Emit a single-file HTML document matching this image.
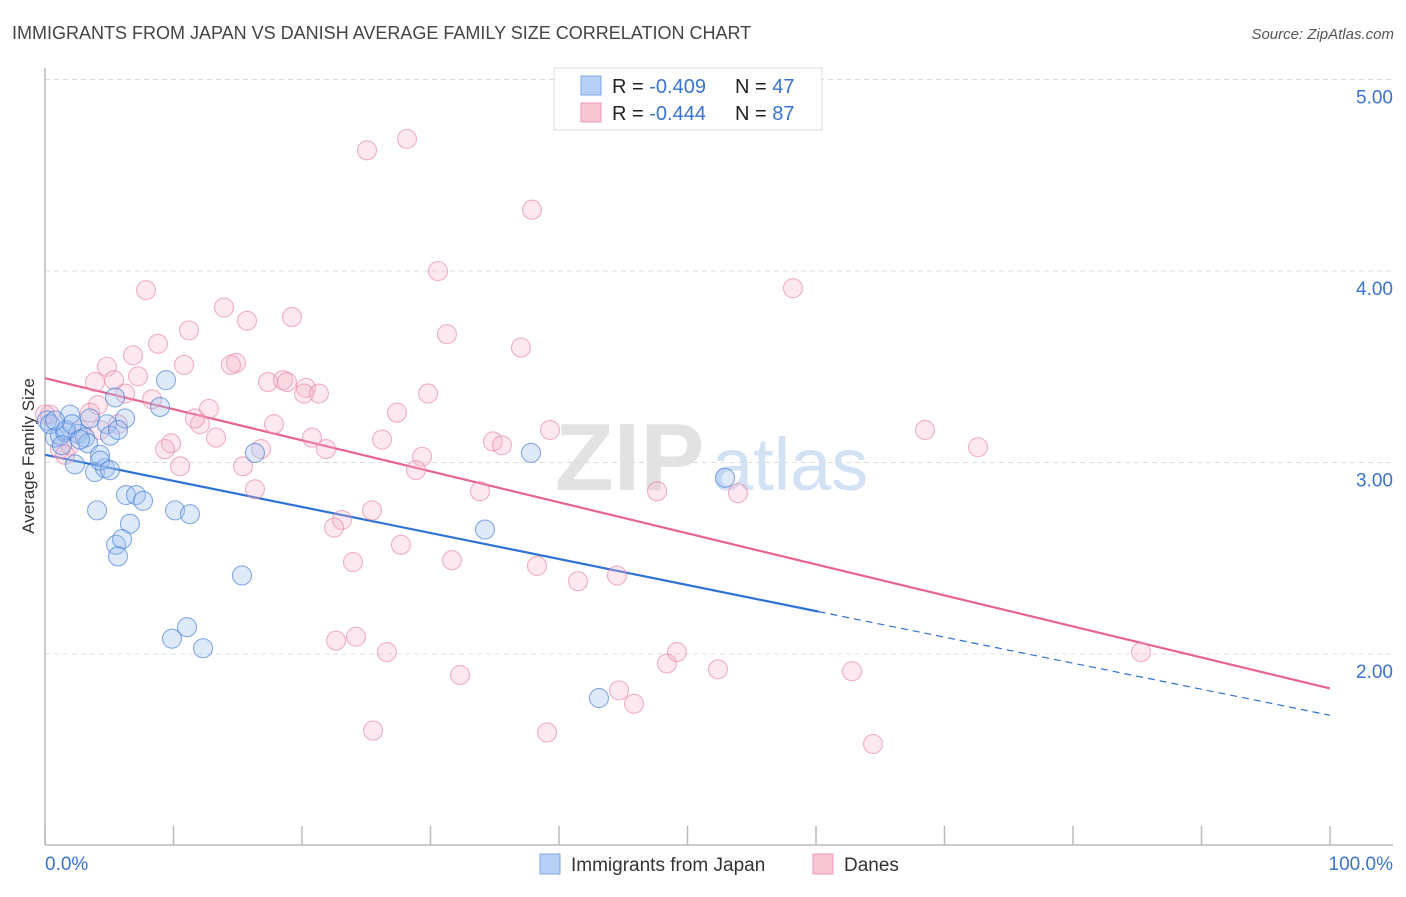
<!DOCTYPE html>
<html><head><meta charset="utf-8">
<style>
body{margin:0;background:#fff;font-family:"Liberation Sans",sans-serif;}
svg text{font-family:"Liberation Sans",sans-serif;}
</style></head>
<body>
<svg id="chart" width="1406" height="892" xmlns="http://www.w3.org/2000/svg">
<text x="12" y="39" font-size="18" fill="#444">IMMIGRANTS FROM JAPAN VS DANISH AVERAGE FAMILY SIZE CORRELATION CHART</text>
<text x="1394" y="39" font-size="15" fill="#555" text-anchor="end" font-style="italic">Source: ZipAtlas.com</text>
<text transform="translate(34,456) rotate(-90)" font-size="17" fill="#333" text-anchor="middle">Average Family Size</text>
<g>
<text x="555" y="490" font-size="96" font-family="Liberation Serif" fill="#e2e2e2" font-weight="bold">ZIP</text>
<text x="712" y="490" font-size="74" fill="#d2e1f3">atlas</text>
</g>
<g id="grid"></g>
<g id="axes"></g>
<g id="lines"></g>
<g id="pts"></g>
<g>
<rect x="554" y="68" width="268" height="62" fill="#fff" stroke="#ddd"/>
<rect x="581" y="76" width="20" height="19" fill="#b6d0f5" stroke="#7aa7e6"/>
<rect x="581" y="103" width="20" height="19" fill="#f9c6d6" stroke="#ea9bb6"/>
<text x="612" y="93" font-size="20" fill="#222">R = <tspan fill="#3b73d1">-0.409</tspan></text>
<text x="735" y="93" font-size="20" fill="#222">N = <tspan fill="#3b73d1">47</tspan></text>
<text x="612" y="120" font-size="20" fill="#222">R = <tspan fill="#3b73d1">-0.444</tspan></text>
<text x="735" y="120" font-size="20" fill="#222">N = <tspan fill="#3b73d1">87</tspan></text>
</g>
<g>
<rect x="540" y="854" width="20" height="20" fill="#b6d0f5" stroke="#7aa7e6"/>
<text x="571" y="871" font-size="19" fill="#333">Immigrants from Japan</text>
<rect x="813" y="854" width="20" height="20" fill="#f9c6d6" stroke="#ea9bb6"/>
<text x="844" y="871" font-size="19" fill="#333">Danes</text>
</g>
</svg>
<script>
const yTicks=[2,3,4,5];
const yTickLabels=["2.00","3.00","4.00","5.00"];
const xTickLabels=["0.0%","100.0%"];
const blueX=[0.16,0.39,0.78,1.17,1.56,1.95,2.33,2.57,3.11,3.35,3.50,3.89,4.28,4.67,4.05,4.82,5.06,5.45,6.23,6.30,7.08,7.63,6.61,5.53,6.00,5.68,8.95,9.42,10.12,11.28,11.05,9.88,12.30,15.33,16.34,34.24,37.82,52.92,43.11,1.63,2.10,4.28,2.72,5.06,5.68,0.78,1.32];
const blueY=[3.22,3.20,3.13,3.14,3.16,3.25,2.99,3.15,3.13,3.10,3.23,2.95,3.04,2.97,2.75,3.20,3.14,3.34,3.23,2.83,2.83,2.80,2.68,2.57,2.60,2.51,3.29,3.43,2.75,2.73,2.14,2.08,2.03,2.41,3.05,2.65,3.05,2.92,1.77,3.17,3.20,3.01,3.12,2.96,3.17,3.22,3.09];
const pinkX=[25.06,28.17,37.90,30.58,7.86,13.93,15.72,19.22,11.21,8.79,6.85,10.82,14.86,14.47,4.82,5.37,3.89,7.24,17.35,18.52,18.83,20.31,20.16,21.32,29.81,31.28,37.04,58.21,8.33,12.76,6.23,4.12,3.50,12.06,13.31,9.81,9.34,10.51,15.41,16.81,17.82,20.78,21.87,26.23,27.39,34.86,35.56,39.30,29.34,28.87,33.85,16.34,23.11,22.49,25.45,27.70,23.97,31.67,38.29,41.48,44.51,47.63,53.93,68.48,72.61,22.65,24.20,26.61,32.30,44.67,45.84,48.40,49.18,52.37,62.80,85.29,39.07,25.53,64.44,1.17,1.95,0.39,2.72,1.56,0.0,4.28,5.68,11.67];
const pinkY=[4.63,4.69,4.32,4.00,3.90,3.81,3.74,3.76,3.69,3.62,3.56,3.51,3.52,3.51,3.50,3.43,3.42,3.45,3.42,3.43,3.42,3.39,3.36,3.36,3.36,3.67,3.60,3.91,3.33,3.28,3.36,3.30,3.26,3.20,3.13,3.10,3.07,2.98,2.98,3.07,3.20,3.13,3.07,3.12,3.26,3.11,3.09,3.17,3.03,2.96,2.85,2.86,2.70,2.66,2.75,2.57,2.48,2.49,2.46,2.38,2.41,2.85,2.84,3.17,3.08,2.07,2.09,2.01,1.89,1.81,1.74,1.95,2.01,1.92,1.91,2.01,1.59,1.60,1.53,3.07,3.09,3.25,3.17,3.04,3.25,3.17,3.20,3.23];
const blueTrend=[3.04,1.68];
const pinkTrend=[3.44,1.82];
const blueSolidEnd=60.2;

const NS="http://www.w3.org/2000/svg";
const X0=45,X1=1330;
const xs=v=>X0+(v/100)*(X1-X0);
const ys=v=>271-(v-4)*191.5;
function mk(tag,attrs,parent){const e=document.createElementNS(NS,tag);for(const k in attrs)e.setAttribute(k,attrs[k]);parent.appendChild(e);return e;}
const grid=document.getElementById('grid'),axes=document.getElementById('axes'),lines=document.getElementById('lines'),pts=document.getElementById('pts');
yTicks.forEach((t,i)=>{
 const l=mk('line',{x1:45,x2:1393,y1:ys(t),y2:ys(t),stroke:'#dcdcdc','stroke-dasharray':'5,4'},grid);
 
 
 const tx=mk('text',{x:1393,y:ys(t)+24,'font-size':19,fill:'#3b73d1','text-anchor':'end'},grid);
 tx.textContent=yTickLabels[i];
 
 
});
const ax=mk('line',{x1:45,x2:1393,y1:845,y2:845,stroke:'#bbb','stroke-width':1.5},axes);


const ay=mk('line',{x1:45,x2:45,y1:68,y2:845,stroke:'#bbb','stroke-width':1.5},axes);


for(let i=0;i<=10;i++){
 const t=mk('line',{x1:xs(i*10),x2:xs(i*10),y1:826,y2:845,stroke:'#bbb','stroke-width':1.5},axes);
 
 
}
const xl0=mk('text',{x:45,y:870,'font-size':19,fill:'#3b73d1'},axes);xl0.textContent=xTickLabels[0];


const xl1=mk('text',{x:1393,y:870,'font-size':19,fill:'#3b73d1','text-anchor':'end'},axes);xl1.textContent=xTickLabels[1];



function drawPts(X,Y,fill,stroke,name){
 X.forEach((x,i)=>{
  const c=mk('circle',{cx:xs(x),cy:ys(Y[i]),r:9.5,fill:fill,stroke:stroke,'stroke-width':1.1},pts);
  
  
 });
}
drawPts(pinkX,pinkY,'rgba(246,178,200,0.3)','rgba(232,128,160,0.6)','danes-point');
drawPts(blueX,blueY,'rgba(160,196,240,0.35)','rgba(70,128,215,0.65)','japan-point');

const tv=(tr,x)=>tr[0]+(tr[1]-tr[0])*x/100;
const bl=mk('line',{x1:xs(0),y1:ys(tv(blueTrend,0)),x2:xs(blueSolidEnd),y2:ys(tv(blueTrend,blueSolidEnd)),stroke:'#2f72d6','stroke-width':2.2},lines);


const bd=mk('line',{x1:xs(blueSolidEnd),y1:ys(tv(blueTrend,blueSolidEnd)),x2:xs(100),y2:ys(tv(blueTrend,100)),stroke:'#2f72d6','stroke-width':1.2,'stroke-dasharray':'7,5'},lines);


const pl=mk('line',{x1:xs(0),y1:ys(tv(pinkTrend,0)),x2:xs(100),y2:ys(tv(pinkTrend,100)),stroke:'#e8648f','stroke-width':2.2},lines);


</script>
</body></html>
